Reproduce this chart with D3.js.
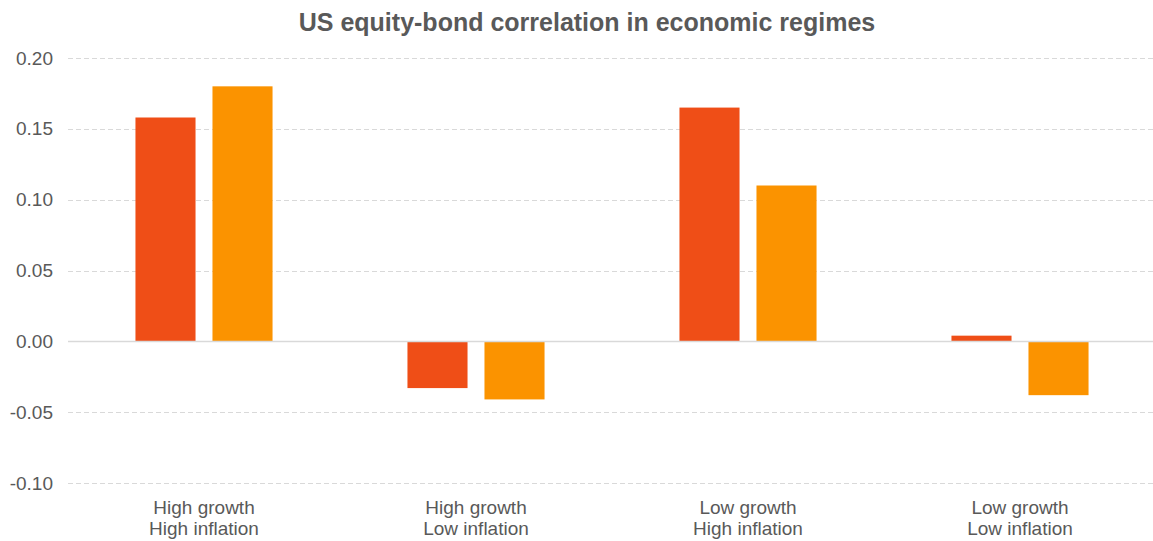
<!DOCTYPE html>
<html>
<head>
<meta charset="utf-8">
<script src="https://cdn.jsdelivr.net/npm/d3@7"></script>
<style>
  body { margin: 0; background: #fff; }
  text { font-family: "Liberation Sans", Arial, sans-serif; }
</style>
</head>
<body>
<div id="chart"></div>
<script>
// Chart data
var categories = [
  ["High growth", "High inflation"],
  ["High growth", "Low inflation"],
  ["Low growth", "High inflation"],
  ["Low growth", "Low inflation"]
];
var seriesNames = ["Series A", "Series B"];
var seriesA = [0.158, -0.033, 0.165, 0.004];
var seriesB = [0.180, -0.041, 0.110, -0.038];
var yTicks = [-0.10, -0.05, 0.00, 0.05, 0.10, 0.15, 0.20];
var colors = ["#EF4E17", "#FB9300"];

var svgWidth = 1153;
var svgHeight = 541;

var margin = { top: 58, bottom: 57, right: -3, left: 68 };
var width = svgWidth - margin.left - margin.right;
var height = svgHeight - margin.top - margin.bottom;

var svg = d3.select("#chart")
  .append("svg")
  .attr("width", svgWidth)
  .attr("height", svgHeight);

svg.append("text")
  .attr("x", 587)
  .attr("y", 31)
  .attr("text-anchor", "middle")
  .attr("font-size", "25px")
  .attr("font-weight", "bold")
  .attr("fill", "#595959")
  .text("US equity-bond correlation in economic regimes");

var chartGroup = svg.append("g")
  .attr("transform", `translate(${margin.left}, ${margin.top})`);

var yScale = d3.scaleLinear()
  .domain([-0.10, 0.20])
  .range([height - 1, 0]);

var xScale = d3.scaleBand()
  .domain(d3.range(categories.length))
  .range([0, 1088]);

var xSub = d3.scaleBand()
  .domain(seriesNames)
  .range([0, xScale.bandwidth()])
  .paddingInner(0.22)
  .paddingOuter(0.876);

// gridlines
chartGroup.selectAll(".grid")
  .data(yTicks.filter(d => d !== 0))
  .enter()
  .append("line")
  .attr("x1", 0)
  .attr("x2", width)
  .attr("y1", d => Math.round(yScale(d)) + 0.5)
  .attr("y2", d => Math.round(yScale(d)) + 0.5)
  .attr("stroke", "#d9d9d9")
  .attr("stroke-width", 1)
  .attr("stroke-dasharray", "5,3");

// y axis labels
var fmt = d3.format(".2f");
var leftAxis = d3.axisLeft(yScale)
  .tickValues(yTicks)
  .tickFormat(d => fmt(d).replace("\u2212", "-"))
  .tickSize(0)
  .tickPadding(15);

var yAxisG = chartGroup.append("g").call(leftAxis);
yAxisG.select(".domain").remove();
yAxisG.selectAll("text")
  .attr("font-size", "19px")
  .attr("fill", "#595959")
  .style("font-family", "'Liberation Sans', Arial, sans-serif");

// bars
var data = categories.map((c, i) => ({ i: i, values: [seriesA[i], seriesB[i]] }));

var groups = chartGroup.selectAll(".group")
  .data(data)
  .enter()
  .append("g")
  .attr("transform", d => `translate(${xScale(d.i)}, 0)`);

groups.selectAll("rect")
  .data(d => d.values.map((v, k) => ({ name: seriesNames[k], value: v, k: k })))
  .enter()
  .append("rect")
  .attr("x", d => xSub(d.name))
  .attr("width", xSub.bandwidth())
  .attr("y", d => yScale(Math.max(0, d.value)))
  .attr("height", d => Math.abs(yScale(d.value) - yScale(0)))
  .attr("fill", d => colors[d.k]);

// zero line
chartGroup.append("line")
  .attr("x1", 0)
  .attr("x2", width)
  .attr("y1", Math.round(yScale(0)) + 0.5)
  .attr("y2", Math.round(yScale(0)) + 0.5)
  .attr("stroke", "#d9d9d9")
  .attr("stroke-width", 1.5);

// category labels
var labels = chartGroup.selectAll(".cat")
  .data(categories)
  .enter()
  .append("text")
  .attr("text-anchor", "middle")
  .attr("font-size", "19px")
  .attr("fill", "#595959")
  .attr("transform", (d, i) => `translate(${xScale(i) + xScale.bandwidth() / 2}, ${height + 30})`);

labels.selectAll("tspan")
  .data(d => d)
  .enter()
  .append("tspan")
  .attr("x", 0)
  .attr("dy", (d, k) => k === 0 ? 0 : 21)
  .text(d => d);
</script>
</body>
</html>
